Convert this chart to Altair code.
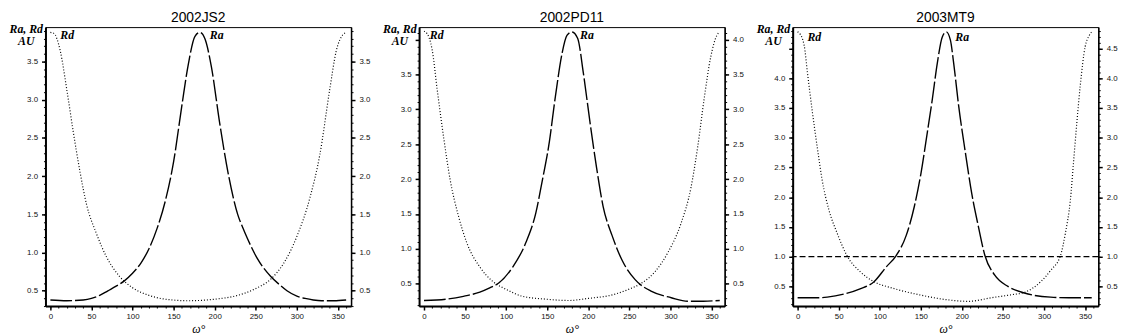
import altair as alt
import pandas as pd

TITLES = ["2002JS2", "2002PD11", "2003MT9"]
CURVE_LABELS = ["Rd", "Ra"]

# ---- 2002JS2 ----
JS2_RA_W = [0, 20, 40, 50, 60, 70, 80, 90, 100, 110, 120, 130, 140, 150, 160, 168, 176, 182, 188, 196, 206, 216, 228, 234, 240, 252, 268, 280, 288, 300, 310, 320, 330, 345, 360]
JS2_RA_V = [0.38, 0.37, 0.38, 0.40, 0.44, 0.50, 0.56, 0.63, 0.73, 0.86, 1.05, 1.32, 1.68, 2.19, 2.92, 3.47, 3.83, 3.88, 3.80, 3.43, 2.70, 2.06, 1.50, 1.33, 1.18, 0.92, 0.69, 0.57, 0.50, 0.43, 0.40, 0.38, 0.37, 0.37, 0.38]
JS2_RD_W = [0, 4, 12, 20, 28, 36, 44, 56, 68, 84, 100, 120, 140, 168, 200, 228, 248, 268, 284, 300, 316, 328, 340, 348, 356, 360]
JS2_RD_V = [3.88, 3.87, 3.64, 3.13, 2.57, 2.06, 1.63, 1.25, 0.95, 0.69, 0.54, 0.44, 0.39, 0.37, 0.39, 0.44, 0.52, 0.65, 0.86, 1.21, 1.72, 2.28, 3.13, 3.64, 3.85, 3.88]

# ---- 2002PD11 ----
PD11_RA_W = [0, 28, 48, 68, 80, 91, 108, 124, 136, 144, 152, 160, 168, 174, 180, 187, 194, 202, 210, 218, 229, 241, 257, 277, 301, 321, 340, 360]
PD11_RA_V = [0.26, 0.28, 0.32, 0.38, 0.44, 0.51, 0.74, 1.09, 1.51, 1.98, 2.49, 3.19, 3.80, 4.06, 4.11, 4.02, 3.52, 2.82, 2.17, 1.61, 1.19, 0.84, 0.56, 0.39, 0.30, 0.25, 0.25, 0.26]
PD11_RD_W = [0, 2, 10, 16, 24, 32, 42, 52, 68, 84, 100, 120, 148, 176, 200, 229, 249, 265, 281, 297, 313, 325, 333, 341, 349, 356, 360]
PD11_RD_V = [4.12, 4.11, 3.85, 3.29, 2.59, 1.98, 1.47, 1.09, 0.74, 0.53, 0.42, 0.32, 0.28, 0.26, 0.29, 0.34, 0.42, 0.51, 0.67, 0.95, 1.37, 1.88, 2.45, 3.15, 3.75, 4.05, 4.11]

# ---- 2003MT9 ----
MT9_RA_W = [0, 24, 36, 56, 76, 93, 108, 120, 132, 142, 150, 158, 164, 170, 176, 181, 186, 190, 196, 204, 212, 220, 228, 240, 256, 276, 308, 330, 358]
MT9_RA_V = [0.31, 0.31, 0.32, 0.37, 0.46, 0.58, 0.83, 1.02, 1.35, 1.84, 2.39, 3.10, 3.65, 4.25, 4.69, 4.78, 4.64, 4.25, 3.54, 2.77, 2.06, 1.51, 1.02, 0.69, 0.50, 0.39, 0.32, 0.31, 0.31]
MT9_RD_W = [0, 2, 8, 12, 18, 24, 30, 38, 48, 60, 76, 93, 116, 148, 180, 208, 236, 260, 276, 296, 308, 320, 326, 332, 336, 340, 344, 350, 355, 358]
MT9_RD_V = [4.78, 4.76, 4.55, 4.09, 3.43, 2.83, 2.28, 1.79, 1.40, 1.02, 0.75, 0.58, 0.47, 0.36, 0.28, 0.25, 0.31, 0.36, 0.40, 0.58, 0.77, 1.02, 1.40, 1.95, 2.61, 3.27, 3.87, 4.53, 4.72, 4.78]
MT9_HLINE = [1.0]

# curve label anchors (omega, value) for "Rd", "Ra"
JS2_LAB_W, JS2_LAB_V = [12, 194], [3.79, 3.79]
PD11_LAB_W, PD11_LAB_V = [7, 190], [4.01, 4.01]
MT9_LAB_W, MT9_LAB_V = [12, 192], [4.63, 4.63]

Y_DOMAINS = [[0.30, 3.95], [0.18, 4.18], [0.17, 4.86]]
Y_TICKS = [[0.5, 1.0, 1.5, 2.0, 2.5, 3.0, 3.5],
           [0.5, 1.0, 1.5, 2.0, 2.5, 3.0, 3.5, 4.0],
           [0.5, 1.0, 1.5, 2.0, 2.5, 3.0, 3.5, 4.0, 4.5]]
LEFT_MAX = [9.0, 3.9, 4.4]

X_DOMAIN = [-6, 366]
X_TICKS = [0, 50, 100, 150, 200, 250, 300, 350]
X_MINOR = list(range(0, 361, 10))

LABEL_FONT = "Liberation Sans"
SERIF = "Liberation Serif"
W, H = 310, 283


def build(title, ra_w, ra_v, rd_w, rd_v, ydom, yticks, left_max, lab_w, lab_v, hline=None):
    ra = pd.DataFrame({"w": ra_w, "v": ra_v})
    rd = pd.DataFrame({"w": rd_w, "v": rd_v})
    labs = pd.DataFrame({"w": lab_w, "v": lab_v, "t": CURVE_LABELS})
    ttl = pd.DataFrame({"t": [title]})
    xs = alt.Scale(domain=X_DOMAIN, nice=False, zero=False)
    ys = alt.Scale(domain=ydom, nice=False, zero=False)
    y_minor = [round(0.1 * k, 1) for k in range(1, 50) if ydom[0] <= 0.1 * k <= ydom[1]]

    common = dict(labelFont=LABEL_FONT, labelFontSize=8, labelColor="#111",
                  tickColor="black", domainColor="black", grid=False)

    ax_x = alt.Axis(orient="bottom", values=X_TICKS, format="d", title="ω°",
                    tickSize=4, tickWidth=1.5, domainWidth=2, labelPadding=3,
                    titlePadding=3, titleFont=SERIF, titleFontStyle="italic",
                    titleFontWeight="normal", titleFontSize=12, titleColor="black",
                    **common)
    ax_yl = alt.Axis(orient="left", values=yticks, format=".1f",
                     labelExpr=f"datum.value > {left_max} ? '' : datum.label",
                     title=["Ra, Rd", "AU"], titleAngle=0, titleAlign="center",
                     titleBaseline="alphabetic", titleX=-20, titleY=5,
                     titleFont=SERIF, titleFontStyle="italic", titleFontWeight="bold",
                     titleFontSize=12, titleLineHeight=13, titleColor="black",
                     tickSize=4, tickWidth=1.5, domainWidth=2, labelPadding=4,
                     **common)
    ax_yr = alt.Axis(orient="right", values=yticks, format=".1f", title=None,
                     tickSize=4, tickWidth=1.5, domainWidth=1.5, labelPadding=4,
                     **common)
    ax_xm = alt.Axis(orient="bottom", values=X_MINOR, labels=False, domain=False,
                     tickSize=2, tickWidth=1, tickColor="black", title=None, grid=False)
    ax_ylm = alt.Axis(orient="left", values=y_minor, labels=False, domain=False,
                      tickSize=2, tickWidth=1, tickColor="black", title=None, grid=False)
    ax_yrm = alt.Axis(orient="right", values=y_minor, labels=False, domain=False,
                      tickSize=2, tickWidth=1, tickColor="black", title=None, grid=False)

    l_ra = alt.Chart(ra).mark_line(color="black", strokeWidth=1.4, strokeDash=[22, 3],
                                   interpolate="monotone").encode(
        x=alt.X("w:Q", scale=xs, axis=ax_x), y=alt.Y("v:Q", scale=ys, axis=ax_yl))
    l_rd = alt.Chart(rd).mark_line(color="black", strokeWidth=1.2, strokeDash=[1, 2],
                                   interpolate="monotone").encode(
        x=alt.X("w:Q", scale=xs, axis=None), y=alt.Y("v:Q", scale=ys, axis=ax_yr))
    l_m1 = alt.Chart(ra).mark_point(opacity=0, size=1).encode(
        x=alt.X("w:Q", scale=xs, axis=ax_xm), y=alt.Y("v:Q", scale=ys, axis=ax_ylm))
    l_m2 = alt.Chart(rd).mark_point(opacity=0, size=1).encode(
        x=alt.X("w:Q", scale=xs, axis=None), y=alt.Y("v:Q", scale=ys, axis=ax_yrm))
    l_txt = alt.Chart(labs).mark_text(align="left", baseline="alphabetic", font=SERIF,
                                      fontStyle="italic", fontWeight="bold", fontSize=12,
                                      color="black").encode(
        x=alt.X("w:Q", scale=xs, axis=None), y=alt.Y("v:Q", scale=ys, axis=None),
        text="t:N")
    l_ttl = alt.Chart(ttl).mark_text(align="center", baseline="alphabetic",
                                     font=LABEL_FONT, fontSize=14, color="black").encode(
        x=alt.value(W / 2), y=alt.value(-5), text="t:N")
    layers = [l_ra, l_rd, l_m1, l_m2, l_txt, l_ttl]
    if hline is not None:
        hd = pd.DataFrame({"v": hline})
        layers.append(alt.Chart(hd).mark_rule(color="black", strokeWidth=1.2,
                                              strokeDash=[6, 3]).encode(
            y=alt.Y("v:Q", scale=ys, axis=None)))
    return alt.layer(*layers).resolve_axis(x="independent", y="independent").properties(
        width=W, height=H)


c1 = build(TITLES[0], JS2_RA_W, JS2_RA_V, JS2_RD_W, JS2_RD_V, Y_DOMAINS[0], Y_TICKS[0],
           LEFT_MAX[0], JS2_LAB_W, JS2_LAB_V)
c2 = build(TITLES[1], PD11_RA_W, PD11_RA_V, PD11_RD_W, PD11_RD_V, Y_DOMAINS[1], Y_TICKS[1],
           LEFT_MAX[1], PD11_LAB_W, PD11_LAB_V)
c3 = build(TITLES[2], MT9_RA_W, MT9_RA_V, MT9_RD_W, MT9_RD_V, Y_DOMAINS[2], Y_TICKS[2],
           LEFT_MAX[2], MT9_LAB_W, MT9_LAB_V, hline=MT9_HLINE)

chart = alt.hconcat(c1, c2, c3, spacing=69, bounds="flush").properties(
    padding=0, background="white"
).configure_view(stroke="black", strokeWidth=1)

chart.save("out.html", embed_options={"renderer": "svg", "actions": False})
